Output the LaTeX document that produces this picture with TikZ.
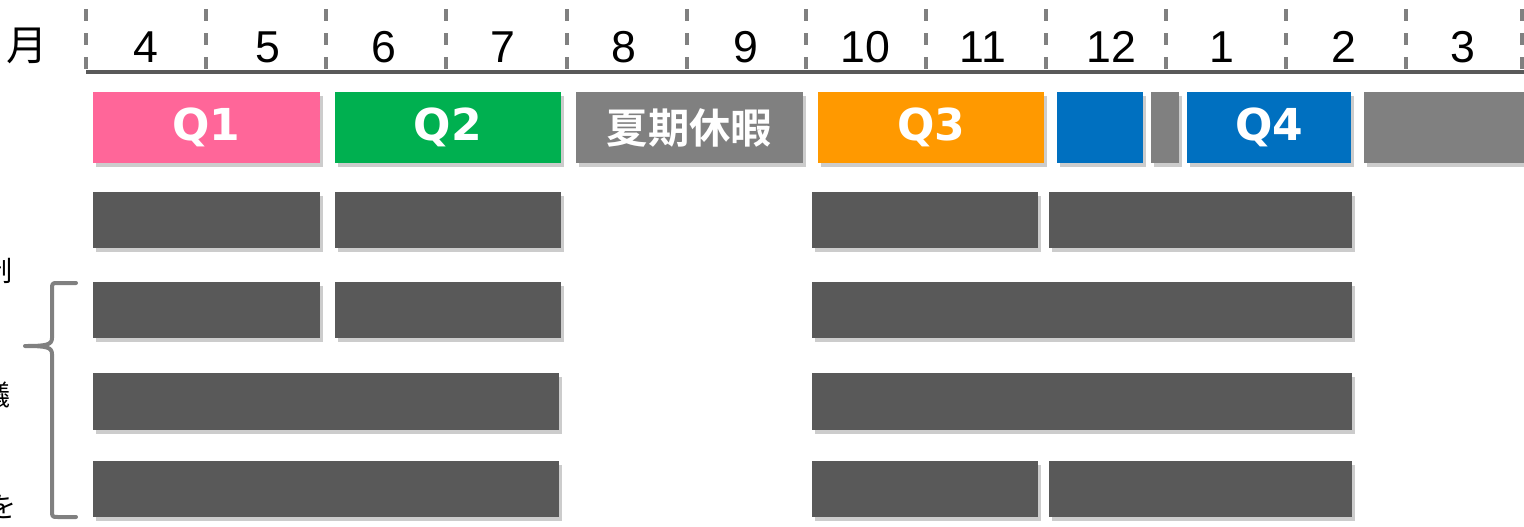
\documentclass[tikz,border=0pt]{standalone}
\usepackage{fontspec}
\setmainfont{Liberation Sans}
\newfontfamily\cjk{Noto Sans CJK JP}
\newfontfamily\cjkb{Noto Sans CJK JP Bold}
\newfontfamily\qfont{DejaVu Sans}
\usetikzlibrary{shadows}
\definecolor{qpink}{HTML}{FF6699}
\definecolor{qgreen}{HTML}{00B050}
\definecolor{qgray}{HTML}{808080}
\definecolor{qorange}{HTML}{FF9900}
\definecolor{qblue}{HTML}{0070C0}
\definecolor{bardark}{HTML}{595959}
\definecolor{axisgray}{HTML}{595959}
\definecolor{tickgray}{HTML}{808080}
\tikzset{
  qbar/.style={inner sep=0pt, outer sep=0pt, text=white, font=\qfont\bfseries\fontsize{33}{33}\selectfont,
     drop shadow={shadow xshift=2pt, shadow yshift=-3pt, opacity=0.2, fill=black}},
  dbar/.style={fill=bardark, drop shadow={shadow xshift=2pt, shadow yshift=-3pt, opacity=0.2, fill=black}},
  month/.style={font=\fontsize{33.5}{33.5}\selectfont, inner sep=0pt},
  tickline/.style={draw=tickgray, line width=2.4pt, dash pattern=on 9pt off 9pt},
  side/.style={font=\cjk\fontsize{21}{21}\selectfont, inner sep=0pt, anchor=east}
}
\begin{document}
\begin{tikzpicture}[x=0.75pt,y=-0.75pt]
\useasboundingbox (0,0) rectangle (1524,526);
\clip (0,0) rectangle (1524,526);
\fill[white] (0,0) rectangle (1524,526);
% ticks
\foreach \i/\x in {0/86,1/206,2/326,3/446,4/567,5/687,6/806,7/926,8/1046,9/1166,10/1286,11/1406,12/1522}{
  \coordinate (t\i top) at (\x,9);
  \coordinate (t\i bot) at (\x,76);
  \draw[tickline] (t\i top) -- (t\i bot);
}
\draw[draw=axisgray, line width=3pt] (t0bot |- 0,72) coordinate (axl) -- (1524,72) coordinate (axr);
% month labels
\node[month, font=\cjk\fontsize{31}{31}\selectfont] (mon) at (27,46) {月};
\foreach \m/\x in {4/146,5/268,6/384,7/503,8/624,9/746,10/865,11/983,12/1111,1/1222,2/1344,3/1463}{
  \node[month] (m\m) at (\x,47) {\m};
}
% quarter bars
\node[qbar, fill=qpink, minimum width=227*0.75pt, minimum height=71*0.75pt, anchor=north west] (q1) at (93,92) {Q1};
\node[qbar, fill=qgreen, minimum width=226*0.75pt, minimum height=71*0.75pt, anchor=north west] (q2) at (335,92) {Q2};
\node[qbar, fill=qgray, minimum width=227*0.75pt, minimum height=71*0.75pt, anchor=north west, font=\cjkb\fontsize{31}{31}\selectfont] (sv) at (576,92) {夏期休暇};
\node[qbar, fill=qorange, minimum width=226*0.75pt, minimum height=71*0.75pt, anchor=north west] (q3) at (818,92) {Q3};
\node[qbar, fill=qblue, minimum width=86*0.75pt, minimum height=71*0.75pt, anchor=north west] (q4a) at (1057,92) {};
\node[qbar, fill=qgray, minimum width=28*0.75pt, minimum height=71*0.75pt, anchor=north west] (wb) at (1151,92) {};
\node[qbar, fill=qblue, minimum width=164*0.75pt, minimum height=71*0.75pt, anchor=north west] (q4) at (1187,92) {Q4};
\node[qbar, fill=qgray, minimum width=170*0.75pt, minimum height=71*0.75pt, anchor=north west] (sp) at (1364,92) {};
% dark bars
\foreach \n/\a/\b/\c/\d in {
 r1a/93/192/320/248, r1b/335/192/561/248, r1c/812/192/1038/248, r1d/1049/192/1352/248,
 r2a/93/282/320/338, r2b/335/282/561/338, r2c/812/282/1352/338,
 r3a/93/373/559/430, r3c/812/373/1352/430,
 r4a/93/461/559/517, r4c/812/461/1038/517, r4d/1049/461/1352/517}{
  \path[dbar] (\a,\b) rectangle (\c,\d);
  \coordinate (\n) at (\a,\b);
}
% brace
\coordinate (bt) at (76,283);
\coordinate (bb) at (76,517);
\coordinate (btip) at (25,346);
\draw[draw=tickgray, line width=3pt, line cap=round, line join=round]
  (bt) -- (58,283) .. controls (52,283) .. (52,290) -- (52,338)
  .. controls (52,345) and (46,346) .. (btip)
  (btip) .. controls (46,346) and (52,347) .. (52,354) -- (52,510)
  .. controls (52,517) .. (58,517) -- (bb);
% left labels, cut off at the picture's left edge as in the reference
\node[side] (s1) at (13,271) {制};
\node[side] (s2) at (11,395) {議};
\node[side] (s3) at (17,507) {を};
\end{tikzpicture}
\end{document}
